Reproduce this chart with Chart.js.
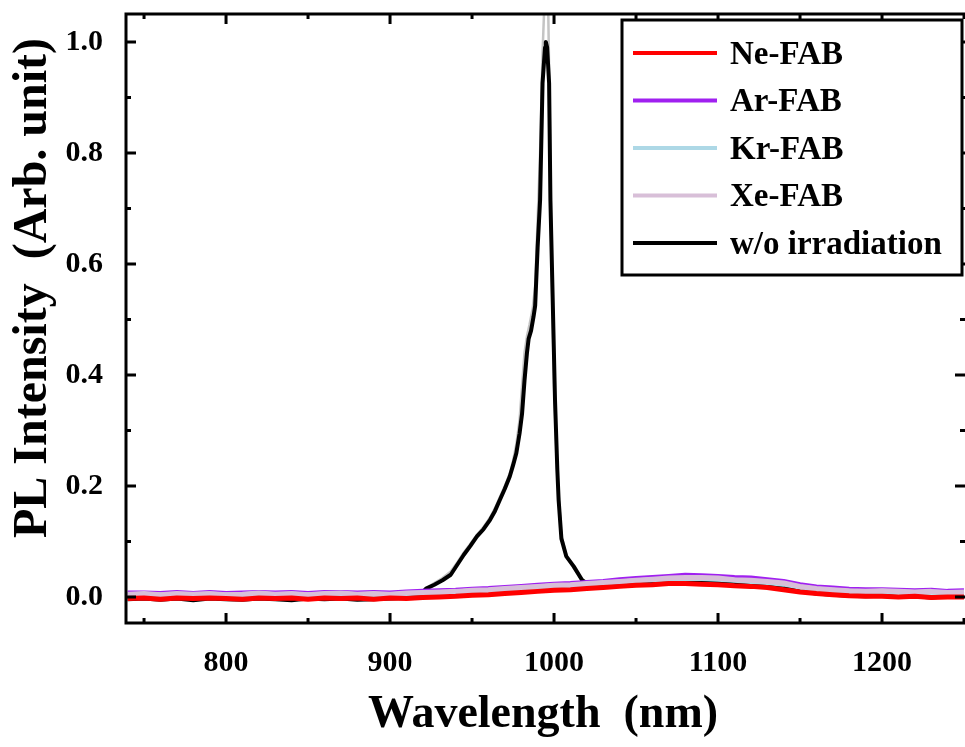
<!DOCTYPE html>
<html>
<head>
<meta charset="utf-8">
<script src="https://cdn.jsdelivr.net/npm/chart.js@4/dist/chart.umd.min.js"></script>
<style>
  html, body { margin: 0; padding: 0; background: #fff; }
  #wrap { width: 965px; height: 747px; overflow: hidden; }
</style>
</head>
<body>
<div id="wrap"><canvas id="plChart" width="965" height="747"></canvas></div>
<script>
// --- Spectra (wavelength in nm, intensity normalised to the unirradiated peak) ---
const fabWavelengths = [
    740, 750, 760, 770, 780, 790, 800, 810, 820, 830,
    840, 850, 860, 870, 880, 890, 900, 910, 920, 930,
    940, 950, 960, 970, 980, 990, 1000, 1010, 1020, 1030,
    1040, 1050, 1060, 1070, 1080, 1090, 1100, 1110, 1120, 1130,
    1140, 1150, 1160, 1170, 1180, 1190, 1200, 1210, 1220, 1230,
    1240, 1250
];
const neFab = [
    -0.003, -0.002, -0.004, -0.002, -0.003, -0.002, -0.003, -0.004, -0.002, -0.003,
    -0.002, -0.004, -0.002, -0.003, -0.002, -0.004, -0.002, -0.003, -0.001, 0.000,
    0.001, 0.003, 0.004, 0.006, 0.008, 0.010, 0.012, 0.013, 0.015, 0.017,
    0.019, 0.021, 0.022, 0.024, 0.024, 0.023, 0.022, 0.020, 0.019, 0.017,
    0.013, 0.009, 0.006, 0.004, 0.002, 0.001, 0.001, 0.000, 0.001, -0.001,
    0.000, 0.000
];
const arFab = [
    0.007, 0.007, 0.006, 0.008, 0.006, 0.008, 0.006, 0.007, 0.008, 0.007,
    0.008, 0.006, 0.008, 0.008, 0.007, 0.008, 0.007, 0.009, 0.010, 0.011,
    0.012, 0.014, 0.015, 0.017, 0.019, 0.021, 0.023, 0.024, 0.026, 0.028,
    0.031, 0.033, 0.035, 0.037, 0.039, 0.038, 0.037, 0.035, 0.034, 0.031,
    0.028, 0.022, 0.018, 0.016, 0.014, 0.013, 0.013, 0.012, 0.011, 0.012,
    0.010, 0.011
];
const krFab = [
    0.004, 0.005, 0.004, 0.005, 0.004, 0.005, 0.004, 0.004, 0.006, 0.004,
    0.005, 0.004, 0.005, 0.006, 0.004, 0.005, 0.004, 0.006, 0.007, 0.008,
    0.009, 0.011, 0.012, 0.014, 0.016, 0.018, 0.020, 0.021, 0.023, 0.025,
    0.027, 0.029, 0.031, 0.032, 0.033, 0.033, 0.032, 0.030, 0.028, 0.026,
    0.023, 0.018, 0.014, 0.012, 0.010, 0.009, 0.010, 0.009, 0.008, 0.009,
    0.007, 0.008
];
const xeFab = [
    0.005, 0.006, 0.004, 0.006, 0.005, 0.006, 0.004, 0.005, 0.007, 0.005,
    0.006, 0.004, 0.006, 0.007, 0.005, 0.006, 0.005, 0.007, 0.008, 0.009,
    0.010, 0.012, 0.013, 0.015, 0.017, 0.019, 0.021, 0.022, 0.024, 0.026,
    0.028, 0.030, 0.032, 0.034, 0.035, 0.035, 0.034, 0.031, 0.030, 0.028,
    0.025, 0.019, 0.015, 0.013, 0.011, 0.010, 0.011, 0.010, 0.009, 0.010,
    0.008, 0.009
];

// unirradiated sample, sampled densely around the band-edge peak
const refWavelengths = [
    740, 750, 760, 770, 780, 790, 800, 810, 820, 830, 840, 850, 860, 870, 880, 890, 900, 910,
    918, 922, 927, 932, 937, 941, 945, 949, 953, 957, 961, 964, 967, 970, 973, 975, 977, 979,
    980.5, 982, 983.5, 984.5, 986, 987.5, 988.5, 990, 991.5, 993, 994.5, 995, 995.8, 997,
    997.8, 999.2, 1000.6, 1002, 1002.8, 1004.5, 1007.5, 1012, 1017, 1020,
    1030, 1040, 1050, 1060, 1070, 1080, 1090, 1100, 1110, 1120, 1130, 1140, 1150, 1160,
    1170, 1180, 1190, 1200, 1210, 1220, 1230, 1240, 1250
];
const refIntensity = [
    -0.004, -0.003, -0.005, -0.003, -0.006, -0.003, -0.004, -0.005, -0.003, -0.004, -0.006, -0.003, -0.004, -0.003, -0.005, -0.004, -0.003, -0.002,
    0.002, 0.015, 0.022, 0.030, 0.040, 0.058, 0.076, 0.092, 0.109, 0.122, 0.139, 0.155, 0.175, 0.195, 0.217, 0.237, 0.259, 0.295,
    0.330, 0.390, 0.440, 0.465, 0.480, 0.505, 0.525, 0.630, 0.715, 0.926, 0.990, 1.000, 0.990, 0.926,
    0.715, 0.535, 0.355, 0.230, 0.175, 0.105, 0.073, 0.055, 0.031, 0.024,
    0.022, 0.023, 0.024, 0.025, 0.027, 0.028, 0.028, 0.027, 0.025, 0.024, 0.021, 0.017, 0.010, 0.006,
    0.004, 0.002, 0.001, 0.002, 0.000, 0.001, -0.001, 0.001, 0.000
];

// second unirradiated scan (grey trace under the black one)
const scan2Wavelengths = [
    920, 927, 932, 937, 941, 945, 949, 953, 957, 961, 964, 967, 970, 973, 975, 977, 979,
    980.5, 982, 983.5, 985, 987, 988.5, 990, 991.5, 993, 994.5, 995.5, 996.5, 997.5,
    998.5, 1000, 1002, 1004.5, 1008, 1012, 1017, 1020
];
const scan2Intensity = [
    0.012, 0.025, 0.034, 0.046, 0.062, 0.080, 0.096, 0.112, 0.126, 0.143, 0.160, 0.180, 0.200, 0.222, 0.245, 0.275, 0.320,
    0.380, 0.440, 0.470, 0.490, 0.520, 0.560, 0.680, 0.800, 0.980, 1.100, 1.120, 1.050, 0.850,
    0.600, 0.380, 0.220, 0.110, 0.070, 0.052, 0.030, 0.024
];

// --- Axis ticks ---
const xMajorTicks = [800, 900, 1000, 1100, 1200];
const xMinorTicks = [750, 850, 950, 1050, 1150, 1250];
const yMajorTicks = [0.0, 0.2, 0.4, 0.6, 0.8, 1.0];
const yMinorTicks = [0.1, 0.3, 0.5, 0.7, 0.9];

const fontFamily = '"Liberation Serif", "Times New Roman", serif';
const pair = (xs, ys) => xs.map((x, i) => ({ x: x, y: ys[i] }));

function lineSet(label, xs, ys, color, width, order) {
    return {
        label: label,
        data: pair(xs, ys),
        borderColor: color,
        backgroundColor: color,
        borderWidth: width,
        pointRadius: 0,
        tension: 0,
        borderJoinStyle: 'round',
        order: order,
    };
}

// frame with inward ticks on all four sides, axis titles and the boxed legend
const framePlugin = {
    id: 'frame',
    afterDatasetsDraw(chart) {
        const { ctx, chartArea: a, scales } = chart;
        const x = scales.x, y = scales.y;
        ctx.save();
        ctx.strokeStyle = '#000';
        ctx.lineWidth = 3;
        ctx.beginPath();
        const xTick = (v, len) => {
            const px = x.getPixelForValue(v);
            ctx.moveTo(px, a.bottom); ctx.lineTo(px, a.bottom - len);
            ctx.moveTo(px, a.top); ctx.lineTo(px, a.top + len);
        };
        const yTick = (v, len) => {
            const py = y.getPixelForValue(v);
            ctx.moveTo(a.left, py); ctx.lineTo(a.left + len, py);
            ctx.moveTo(a.right, py); ctx.lineTo(a.right - len, py);
        };
        xMajorTicks.forEach(v => xTick(v, 10));
        xMinorTicks.forEach(v => xTick(v, 5));
        yMajorTicks.forEach(v => yTick(v, 10));
        yMinorTicks.forEach(v => yTick(v, 5));
        // spines
        ctx.moveTo(a.left, a.top); ctx.lineTo(a.left, a.bottom);
        ctx.moveTo(a.left - 1.5, a.bottom); ctx.lineTo(a.right + 2, a.bottom);
        ctx.moveTo(a.left - 1.5, a.top); ctx.lineTo(a.right + 2, a.top);
        ctx.moveTo(a.right + 2, a.top); ctx.lineTo(a.right + 2, a.bottom);
        ctx.stroke();

        // legend
        const box = { left: 622, top: 20, right: 962, bottom: 275 };
        ctx.fillStyle = '#fff';
        ctx.fillRect(box.left, box.top, box.right - box.left, box.bottom - box.top);
        ctx.strokeRect(box.left, box.top, box.right - box.left, box.bottom - box.top);
        ctx.font = 'bold 33px ' + fontFamily;
        ctx.textBaseline = 'middle';
        ctx.textAlign = 'left';
        chart.data.datasets.filter(d => d.label).forEach((d, i) => {
            const rowY = 53 + i * 47.5;
            ctx.strokeStyle = d.borderColor;
            ctx.lineWidth = 4;
            ctx.beginPath();
            ctx.moveTo(633, rowY); ctx.lineTo(717, rowY);
            ctx.stroke();
            ctx.fillStyle = '#000';
            ctx.fillText(d.label, 730, rowY + 2);
        });

        // axis titles
        ctx.fillStyle = '#000';
        ctx.font = 'bold 46px ' + fontFamily;
        ctx.textAlign = 'center';
        ctx.textBaseline = 'alphabetic';
        ctx.fillText('Wavelength  (nm)', 543, 727);
        ctx.font = 'bold 48px ' + fontFamily;
        ctx.translate(46, 288);
        ctx.rotate(-Math.PI / 2);
        ctx.fillText('PL Intensity  (Arb. unit)', 0, 0);
        ctx.restore();
    }
};

new Chart(document.getElementById('plChart').getContext('2d'), {
    type: 'line',
    data: {
        datasets: [
            lineSet('Ne-FAB', fabWavelengths, neFab, '#ff0000', 5, 0),
            lineSet('Ar-FAB', fabWavelengths, arFab, '#a020f0', 5, 3),
            lineSet('Kr-FAB', fabWavelengths, krFab, '#add8e6', 5, 2),
            lineSet('Xe-FAB', fabWavelengths, xeFab, '#d8bfd8', 5, 1),
            lineSet('w/o irradiation', refWavelengths, refIntensity, '#000000', 4, 4),
            lineSet('', scan2Wavelengths, scan2Intensity, '#c4c4c4', 2.5, 5),
        ]
    },
    options: {
        responsive: false,
        animation: false,
        devicePixelRatio: 1,
        layout: { padding: { top: 14, right: 0, bottom: 0, left: 0 } },
        plugins: {
            legend: { display: false },
            tooltip: { enabled: false }
        },
        scales: {
            x: {
                type: 'linear',
                min: 739,
                max: 1250.6,
                grid: { display: false, drawTicks: false },
                border: { display: false },
                afterBuildTicks: s => { s.ticks = xMajorTicks.map(v => ({ value: v })); },
                afterFit: s => { s.height = 124; s.paddingLeft = 0; s.paddingRight = 0; },
                ticks: {
                    padding: 22,
                    color: '#000',
                    font: { family: fontFamily, size: 30, weight: 'bold' },
                    callback: v => String(v)
                }
            },
            y: {
                type: 'linear',
                min: -0.047,
                max: 1.0505,
                grid: { display: false, drawTicks: false },
                border: { display: false },
                afterBuildTicks: s => { s.ticks = yMajorTicks.map(v => ({ value: v })); },
                afterFit: s => { s.width = 126; s.paddingTop = 0; s.paddingBottom = 0; },
                ticks: {
                    padding: 23,
                    color: '#000',
                    font: { family: fontFamily, size: 30, weight: 'bold' },
                    callback: v => v.toFixed(1)
                }
            }
        }
    },
    plugins: [framePlugin]
});
</script>
</body>
</html>
